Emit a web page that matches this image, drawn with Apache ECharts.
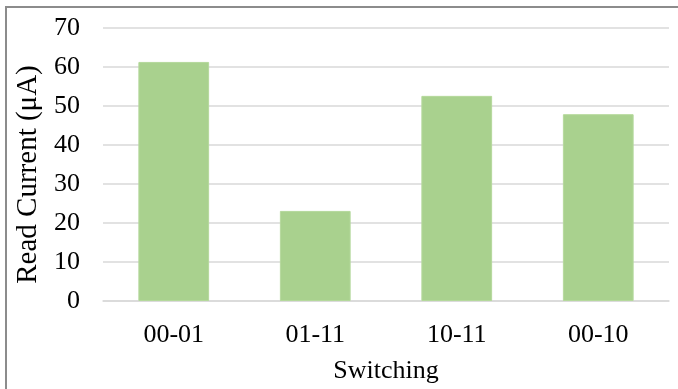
<!DOCTYPE html>
<html>
<head>
<meta charset="utf-8">
<script src="https://cdn.jsdelivr.net/npm/echarts@6/dist/echarts.min.js"></script>
<style>
html,body{margin:0;padding:0;background:#fff;}
#chart{width:678px;height:389px;}
</style>
</head>
<body>
<div id="chart"></div>
<script>
const categories = ['00-01', '01-11', '10-11', '00-10'];
const readCurrent = [61.3, 23.1, 52.6, 47.9];
const yMin = 0, yMax = 70, yStep = 10;

const chart = echarts.init(document.getElementById('chart'), null, {renderer: 'canvas'});
const font = '"Liberation Serif", "Times New Roman", serif';
chart.setOption({
  animation: false,
  graphic: [{
    type: 'rect',
    shape: {x: 6, y: 7, width: 700, height: 400},
    style: {fill: 'none', stroke: '#8c8c8c', lineWidth: 2},
    silent: true
  }],
  grid: {left: 103, right: 9, top: 28, bottom: 88, containLabel: false},
  xAxis: {
    type: 'category',
    data: categories,
    name: 'Switching',
    nameLocation: 'middle',
    nameGap: 57,
    nameTextStyle: {fontFamily: font, fontSize: 26, color: '#000'},
    axisLine: {show: true, lineStyle: {color: '#d9d9d9', width: 1.5}},
    axisTick: {show: false},
    axisLabel: {fontFamily: font, fontSize: 26, color: '#000', margin: 21}
  },
  yAxis: {
    type: 'value',
    min: yMin, max: yMax, interval: yStep,
    name: 'Read Current (μA)',
    nameLocation: 'middle',
    nameGap: 51,
    nameRotate: 90,
    nameTextStyle: {fontFamily: font, fontSize: 29, color: '#000', padding: [0, 20, 0, 0]},
    axisLine: {show: false},
    axisTick: {show: false},
    axisLabel: {fontFamily: font, fontSize: 26, color: '#000', margin: 23},
    splitLine: {lineStyle: {color: '#d9d9d9', width: 1.5}}
  },
  series: [{
    type: 'bar',
    data: readCurrent,
    barWidth: '50%',
    itemStyle: {color: '#a9d18e', borderColor: '#b5d99c', borderWidth: 1}
  }]
});
</script>
</body>
</html>
